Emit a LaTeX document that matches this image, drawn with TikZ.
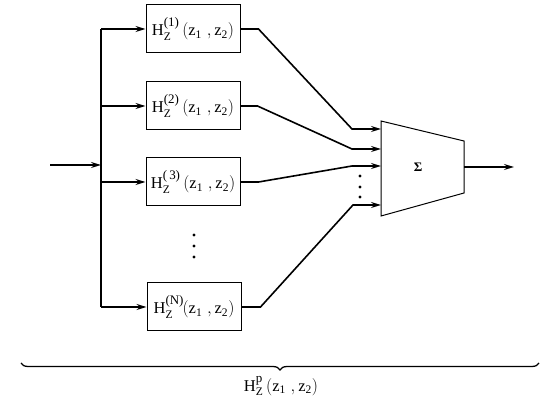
\documentclass[tikz,border=0pt]{standalone}
\usepackage{amsmath}
\usepackage{fontspec}
\setmainfont{Liberation Serif}
\usetikzlibrary{arrows.meta,decorations.pathreplacing}
\newcommand\Zarg{$(\text{z}_{\text{1}}\;,\text{z}_{\text{2}})$}
\newcommand\Hlab[1]{$\text{H}_{\text{Z}}^{\text{\fontsize{13}{13}\selectfont #1}}$}
\begin{document}
\begin{tikzpicture}[x=1pt,y=-1pt,
  blk/.style={draw,line width=1pt,minimum width=94pt,minimum height=48pt,inner sep=0pt,font=\fontsize{16.5}{18}\selectfont},
  wire/.style={line width=1.6pt},
  arr/.style={line width=1.6pt,-{Stealth[length=10pt,width=6pt,inset=3.5pt]}},
  dot/.style={circle,fill,inner sep=0pt,minimum size=3.2pt}]
\useasboundingbox (0,0) rectangle (555,403);
% boxes
\node[blk] (b1) at (193,29) {\Hlab{(1)}\,\Zarg};
\node[blk] (b2) at (193,106) {\Hlab{(2)}\,\Zarg};
\node[blk] (b3) at (193,182) {\Hlab{(\,3)}\,\Zarg};
\node[blk] (bN) at (194,307) {\Hlab{(N)}\kern-1.5pt\Zarg};
% input and bus
\coordinate (in) at (50,165);
\coordinate (j) at (101,165);
\coordinate (t1) at (101,29);
\coordinate (t2) at (101,106);
\coordinate (t3) at (101,182);
\coordinate (tN) at (101,307);
\draw[arr] (in) -- (j);
\draw[wire] (t1) -- (tN);
\draw[arr] (t1) -- (b1.west);
\draw[arr] (t2) -- (b2.west);
\draw[arr] (t3) -- (b3.west);
\draw[arr] (tN) -- (bN.west);
% summer
\coordinate (s1) at (381,121);
\coordinate (s2) at (464,141);
\coordinate (s3) at (464,193);
\coordinate (s4) at (381,216);
\draw[line width=1pt] (s1) -- (s2) -- (s3) -- (s4) -- cycle;
\node[font=\fontsize{13}{15}\selectfont\bfseries] (sig) at (418,167) {Σ};
\coordinate (o) at (464,167);
\coordinate (out) at (514,167);
\draw[arr] (o) -- (out);
% inputs to summer
\coordinate (i1) at (381,129);
\coordinate (i2) at (381,149);
\coordinate (i3) at (381,166);
\coordinate (i4) at (381,205);
\draw[arr] (b1.east) -- ++(18,0) -- (352,129) -- (i1);
\draw[arr] (b2.east) -- ++(17,0) -- (352,149) -- (i2);
\draw[arr] (b3.east) -- ++(18,0) -- (352,166) -- (i3);
\draw[arr] (bN.east) -- ++(19,0) -- (353,205) -- (i4);
% dots
\node[dot] (d1) at (360,176) {};
\node[dot] (d2) at (360,187) {};
\node[dot] (d3) at (360,197) {};
\node[dot] (v1) at (194,235) {};
\node[dot] (v2) at (194,246) {};
\node[dot] (v3) at (194,257) {};
% brace
\coordinate (bl) at (21,363);
\coordinate (br) at (539,363);
\draw[line width=1.3pt,decorate,decoration={brace,mirror,amplitude=7pt}] (bl) -- (br);
\node[font=\fontsize{16.5}{18}\selectfont] (lab) at (281,386) {\Hlab{p}\,\Zarg};
\end{tikzpicture}
\end{document}
